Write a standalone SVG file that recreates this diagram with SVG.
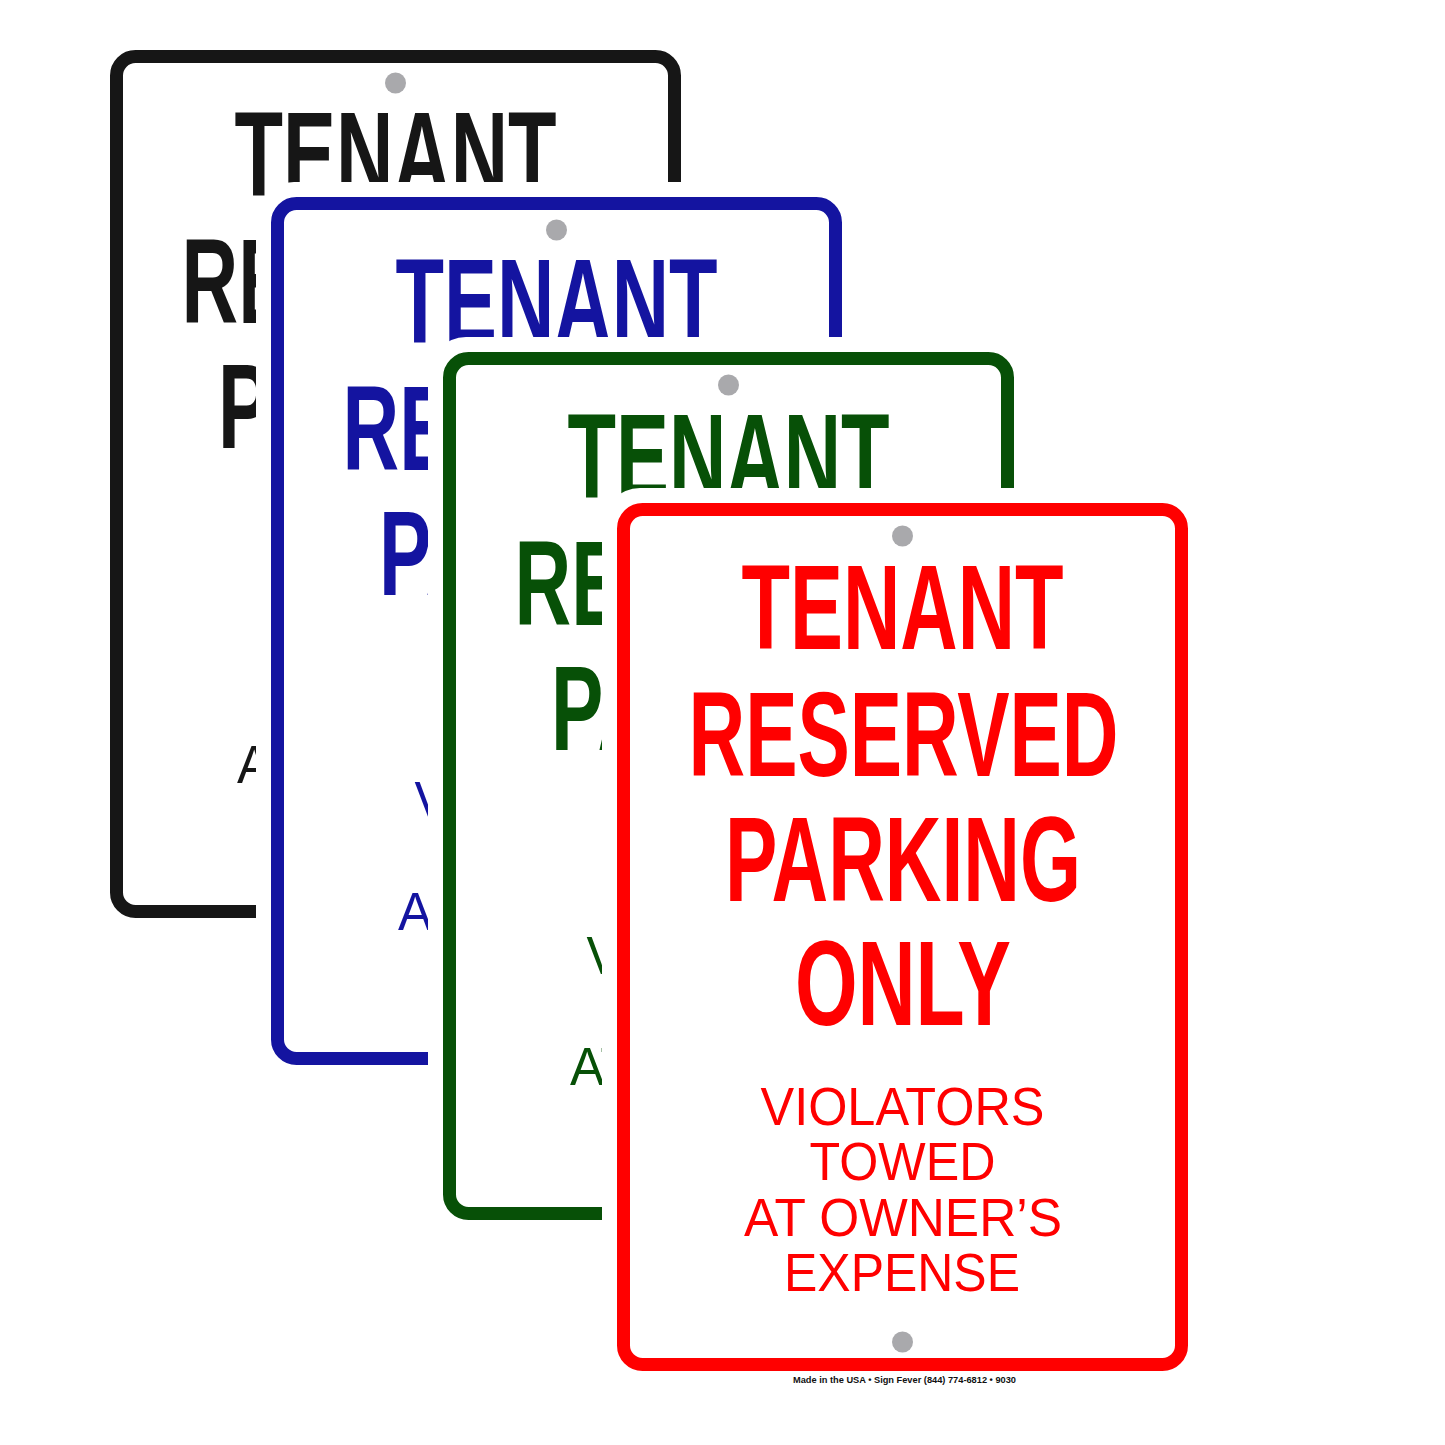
<svg xmlns="http://www.w3.org/2000/svg" width="1445" height="1445" viewBox="0 0 1445 1445">
<style>
.bg{fill:#fff}
.frame{fill:none;stroke-width:13}
.hole{fill:#a9a9ac}
.big{font-family:"Liberation Sans",Arial,sans-serif;font-weight:700;font-size:121px;text-anchor:middle}
.small{font-family:"Liberation Sans",Arial,sans-serif;font-weight:400;font-size:53px;text-anchor:middle}
.foot{font-family:"Liberation Sans",Arial,sans-serif;font-weight:700;font-size:9.5px;text-anchor:middle;fill:#111}
.black .frame{stroke:#161616}.black .big,.black .small{fill:#161616}
.blue .frame{stroke:#1414a0}.blue .big,.blue .small{fill:#1414a0}
.green .frame{stroke:#075007}.green .big,.green .small{fill:#075007}
.red .frame{stroke:#ff0000}.red .big,.red .small{fill:#ff0000}
</style>
<rect width="1445" height="1445" fill="#fff"/>
<g id="sign-black" class="sign black" transform="translate(110,50)">
<rect class="bg" x="-15" y="-15" width="601" height="898" rx="38"/>
<rect class="frame" x="6.5" y="6.5" width="558" height="855" rx="19"/>
<circle class="hole" cx="285.5" cy="33" r="10.5"/>
<text class="big" x="285.5" y="146" textLength="322" lengthAdjust="spacingAndGlyphs">TENANT</text>
<text class="big" x="286.5" y="273" textLength="430" lengthAdjust="spacingAndGlyphs">RESERVED</text>
<text class="big" x="286" y="398" textLength="356" lengthAdjust="spacingAndGlyphs">PARKING</text>
<text class="small" x="286" y="733" textLength="318" lengthAdjust="spacingAndGlyphs">AT OWNER’S</text>
</g>
<g id="sign-blue" class="sign blue" transform="translate(271,197)">
<rect class="bg" x="-15" y="-15" width="601" height="898" rx="38"/>
<rect class="frame" x="6.5" y="6.5" width="558" height="855" rx="19"/>
<circle class="hole" cx="285.5" cy="33" r="10.5"/>
<text class="big" x="285.5" y="146" textLength="322" lengthAdjust="spacingAndGlyphs">TENANT</text>
<text class="big" x="286.5" y="273" textLength="430" lengthAdjust="spacingAndGlyphs">RESERVED</text>
<text class="big" x="286" y="398" textLength="356" lengthAdjust="spacingAndGlyphs">PARKING</text>
<text class="small" x="285.5" y="622" textLength="284" lengthAdjust="spacingAndGlyphs">VIOLATORS</text>
<text class="small" x="286" y="733" textLength="318" lengthAdjust="spacingAndGlyphs">AT OWNER’S</text>
</g>
<g id="sign-green" class="sign green" transform="translate(443,352)">
<rect class="bg" x="-15" y="-15" width="601" height="898" rx="38"/>
<rect class="frame" x="6.5" y="6.5" width="558" height="855" rx="19"/>
<circle class="hole" cx="285.5" cy="33" r="10.5"/>
<text class="big" x="285.5" y="146" textLength="322" lengthAdjust="spacingAndGlyphs">TENANT</text>
<text class="big" x="286.5" y="273" textLength="430" lengthAdjust="spacingAndGlyphs">RESERVED</text>
<text class="big" x="286" y="398" textLength="356" lengthAdjust="spacingAndGlyphs">PARKING</text>
<text class="small" x="285.5" y="622" textLength="284" lengthAdjust="spacingAndGlyphs">VIOLATORS</text>
<text class="small" x="286" y="733" textLength="318" lengthAdjust="spacingAndGlyphs">AT OWNER’S</text>
</g>
<g id="sign-red" class="sign red" transform="translate(617,503)">
<rect class="bg" x="-15" y="-15" width="601" height="898" rx="38"/>
<rect class="frame" x="6.5" y="6.5" width="558" height="855" rx="19"/>
<circle class="hole" cx="285.5" cy="33" r="10.5"/>
<circle class="hole" cx="285.5" cy="839" r="10.5"/>
<text class="big" x="285.5" y="146" textLength="322" lengthAdjust="spacingAndGlyphs">TENANT</text>
<text class="big" x="286.5" y="273" textLength="430" lengthAdjust="spacingAndGlyphs">RESERVED</text>
<text class="big" x="286" y="398" textLength="356" lengthAdjust="spacingAndGlyphs">PARKING</text>
<text class="big" x="286" y="522" textLength="216" lengthAdjust="spacingAndGlyphs">ONLY</text>
<text class="small" x="285.5" y="622" textLength="284" lengthAdjust="spacingAndGlyphs">VIOLATORS</text>
<text class="small" x="285.5" y="677" textLength="186" lengthAdjust="spacingAndGlyphs">TOWED</text>
<text class="small" x="286" y="733" textLength="318" lengthAdjust="spacingAndGlyphs">AT OWNER’S</text>
<text class="small" x="285" y="788" textLength="236" lengthAdjust="spacingAndGlyphs">EXPENSE</text>
<text class="foot" x="287.5" y="880" textLength="223" lengthAdjust="spacingAndGlyphs">Made in the USA • Sign Fever (844) 774-6812 • 9030</text>
</g>
</svg>
